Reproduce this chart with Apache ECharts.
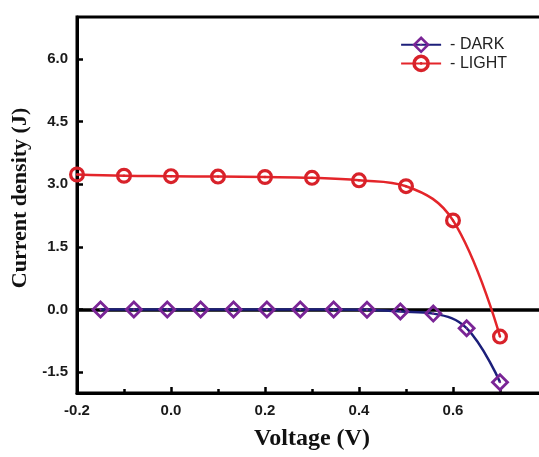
<!DOCTYPE html>
<html><head><meta charset="utf-8">
<script src="https://cdn.jsdelivr.net/npm/echarts@6/dist/echarts.min.js"></script>
<style>html,body{margin:0;padding:0;background:#fff}#c{width:539px;height:457px}</style>
</head><body><div id="c"></div>
<script>
const lightV = [-0.2, -0.1, 0.0, 0.1, 0.2, 0.3, 0.4, 0.5, 0.6, 0.7];
const lightJ = [3.23, 3.20, 3.19, 3.18, 3.17, 3.15, 3.09, 2.95, 2.13, -0.65];
const darkV = [-0.150, -0.079, -0.008, 0.063, 0.133, 0.204, 0.275, 0.346, 0.417, 0.488, 0.558, 0.629, 0.700];
const darkJ = [0.0, 0.0, 0.0, 0.0, 0.0, 0.0, 0.0, 0.0, -0.01, -0.05, -0.10, -0.45, -1.74];
const yTicks = [-1.5, 0.0, 1.5, 3.0, 4.5, 6.0];
const seriesNames = ['DARK', 'LIGHT'];

const ringCircle = 'path://M0,10 A10,10 0 1,1 20,10 A10,10 0 1,1 0,10 Z M4,10 A6,6 0 1,0 16,10 A6,6 0 1,0 4,10 Z M8.5,10 A1.5,1.5 0 1,1 11.5,10 A1.5,1.5 0 1,1 8.5,10 Z';
const ringDiamond = 'path://M10,0 L20,10 L10,20 L0,10 Z M10,4.2 L4.2,10 L10,15.8 L15.8,10 Z M10,8.6 L11.4,10 L10,11.4 L8.6,10 Z';

const pairs = (xs, ys) => xs.map((x, i) => [x, ys[i]]);
const lbl = {fontFamily: 'Liberation Sans, Arial, sans-serif', fontWeight: 'bold', fontSize: 15, color: '#1a1a1a'};

const chart = echarts.init(document.getElementById('c'), null, {renderer: 'canvas'});
chart.setOption({
  animation: false,
  backgroundColor: '#fff',
  grid: {left: 77, top: 17, width: 470, height: 376, show: true, borderColor: '#000', borderWidth: 3,
         containLabel: false, outerBoundsMode: 'none'},
  legend: {
    orient: 'vertical', right: 27, top: 31, itemWidth: 40, itemHeight: 22, itemGap: 1,
    data: seriesNames,
    formatter: n => '- ' + n,
    textStyle: {fontFamily: 'Liberation Sans, Arial, sans-serif', fontSize: 16, color: '#222', padding: [0, 0, 0, 4]}
  },
  xAxis: {
    type: 'value', min: -0.2, max: 0.8, interval: 0.2,
    name: 'Voltage (V)', nameLocation: 'middle', nameGap: 34,
    nameTextStyle: {fontFamily: 'Liberation Serif, Times New Roman, serif', fontWeight: 'bold', fontSize: 24, color: '#111'},
    axisLine: {show: true, onZero: false, lineStyle: {color: '#000', width: 3}},
    axisTick: {show: true, inside: true, length: 6, lineStyle: {color: '#000', width: 2.5}},
    minorTick: {show: true, splitNumber: 2, length: 4, lineStyle: {color: '#000', width: 2.5}},
    axisLabel: Object.assign({margin: 10, showMaxLabel: false, formatter: v => v.toFixed(1)}, lbl),
    splitLine: {show: false}
  },
  yAxis: {
    type: 'value', min: -2, max: 7,
    name: 'Current density (J)', nameLocation: 'middle', nameGap: 45,
    nameTextStyle: {fontFamily: 'Liberation Serif, Times New Roman, serif', fontWeight: 'bold', fontSize: 22, color: '#111',
                    padding: [0, 0, 0, 14]},
    axisLine: {show: true, onZero: false, lineStyle: {color: '#000', width: 3}},
    axisTick: {show: true, inside: true, length: 6, customValues: yTicks, lineStyle: {color: '#000', width: 2.5}},
    axisLabel: Object.assign({margin: 9, customValues: yTicks, formatter: v => v.toFixed(1)}, lbl),
    splitLine: {show: false}
  },
  series: [
    {
      name: 'DARK', type: 'line', smooth: 0.4, data: pairs(darkV, darkJ),
      symbol: ringDiamond, symbolSize: 19,
      lineStyle: {color: '#1c1f7a', width: 2.5},
      itemStyle: {color: '#7a2596', borderWidth: 0},
      markLine: {silent: true, symbol: 'none', label: {show: false},
        lineStyle: {color: '#000', width: 3.5, type: 'solid'}, data: [{yAxis: 0}], z: 1},
      z: 3
    },
    {
      name: 'LIGHT', type: 'line', smooth: 0.4, data: pairs(lightV, lightJ),
      symbol: ringCircle, symbolSize: 16,
      lineStyle: {color: '#e4252a', width: 2.5},
      itemStyle: {color: '#d8222a', borderWidth: 0},
      z: 4
    }
  ]
});
</script></body></html>
